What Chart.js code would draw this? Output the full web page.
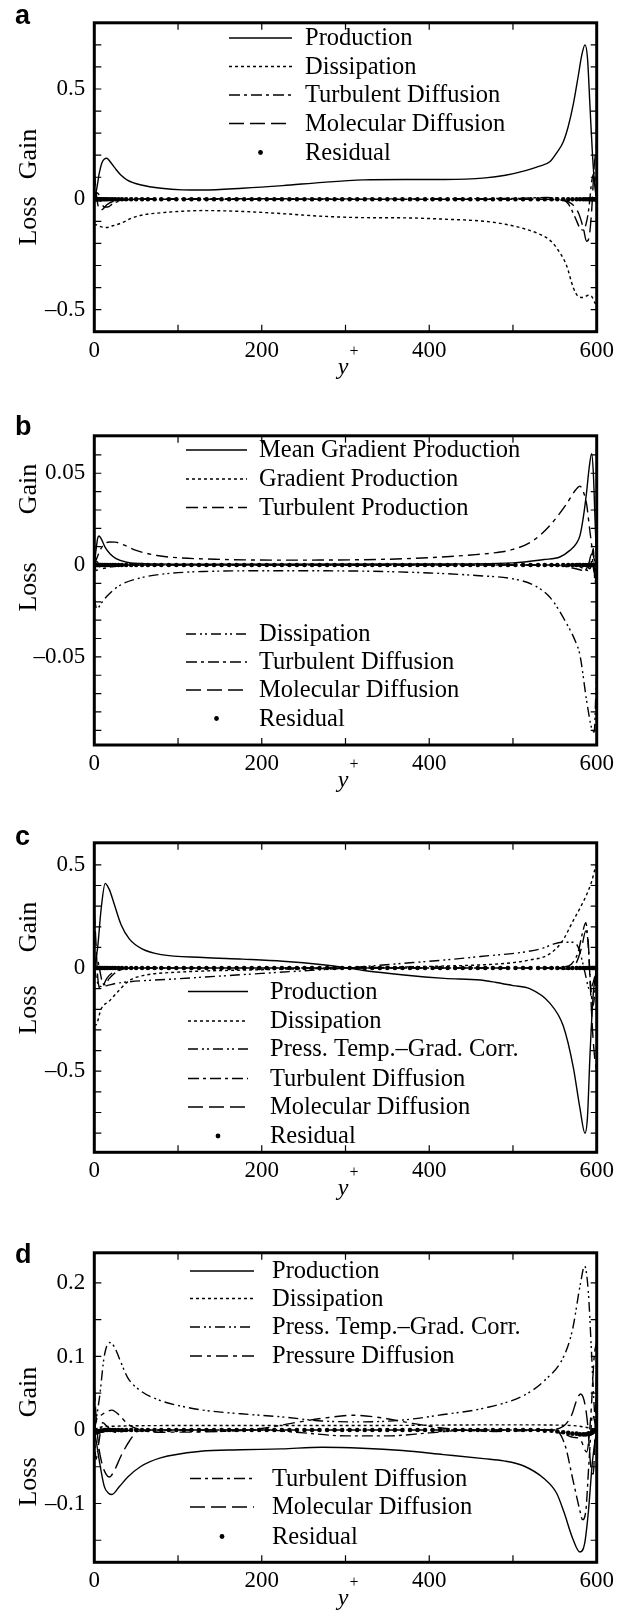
<!DOCTYPE html>
<html lang="en">
<head>
<meta charset="UTF-8">
<title>Budget terms across the channel</title>
<style>
  html, body { margin: 0; padding: 0; background: #fff; }
  body { width: 632px; height: 1611px; position: relative; overflow: hidden; }
  canvas { position: absolute; left: 0; }
</style>
</head>
<body>
<canvas id="panelA"></canvas>
<canvas id="panelB"></canvas>
<canvas id="panelC"></canvas>
<canvas id="panelD"></canvas>

<script src="https://cdn.jsdelivr.net/npm/chart.js"></script>
<script>
// ---- axis ticks ----
const xTicks = [0, 100, 200, 300, 400, 500, 600];
const xLabels = [0, 200, 400, 600];

const ticksA = [-0.6, -0.5, -0.4, -0.3, -0.2, -0.1, 0, 0.1, 0.2, 0.3, 0.4, 0.5, 0.6, 0.7];
const labelsA = [-0.5, 0, 0.5];
const ticksB = [-0.09, -0.08, -0.07, -0.06, -0.05, -0.04, -0.03, -0.02, -0.01, 0, 0.01, 0.02, 0.03, 0.04, 0.05, 0.06];
const labelsB = [-0.05, 0, 0.05];
const ticksC = [-0.8, -0.7, -0.6, -0.5, -0.4, -0.3, -0.2, -0.1, 0, 0.1, 0.2, 0.3, 0.4, 0.5];
const labelsC = [-0.5, 0, 0.5];
const ticksD = [-0.15, -0.1, -0.05, 0, 0.05, 0.1, 0.15, 0.2];
const labelsD = [-0.1, 0, 0.1, 0.2];

// ---- panel a: [y+, value] ----
const prodA = [[0,0],[3,0.05],[6,0.12],[9,0.165],[12,0.183],[15,0.186],[19,0.17],[25,0.14],[32,0.109],[40,0.086],[56,0.065],[80,0.05],[105,0.043],[130,0.042],[177,0.05],[225,0.062],[273,0.077],[322,0.088],[370,0.09],[418,0.09],[467,0.097],[491,0.109],[515,0.13],[530,0.148],[544,0.17],[553,0.215],[560,0.26],[566,0.33],[572,0.43],[578,0.56],[582,0.65],[586,0.7],[589,0.64],[592,0.42],[595,0.2],[598,0.05],[600,0]];
const dissA = [[0,-0.112],[5,-0.12],[10,-0.126],[15,-0.128],[22,-0.12],[32,-0.108],[45,-0.085],[56,-0.072],[80,-0.061],[105,-0.054],[129,-0.051],[177,-0.055],[225,-0.065],[273,-0.077],[322,-0.083],[370,-0.084],[418,-0.09],[467,-0.1],[491,-0.113],[515,-0.135],[530,-0.155],[544,-0.185],[553,-0.225],[564,-0.3],[572,-0.4],[578,-0.44],[584,-0.445],[590,-0.435],[594,-0.44],[598,-0.47],[600,-0.48]];
const turbDiffA = [[0,0],[2,0.03],[5,0.025],[8,-0.01],[12,-0.035],[16,-0.035],[22,-0.02],[32,-0.006],[50,0.002],[100,0.003],[300,0.002],[500,0.004],[540,0.008],[556,0.005],[566,-0.02],[574,-0.08],[580,-0.13],[584,-0.14],[588,-0.1],[591,-0.03],[594,0.08],[597,0.12],[600,0]];
const molDiffA = [[0,0.13],[2,0.04],[4,-0.02],[7,-0.05],[10,-0.045],[15,-0.025],[22,-0.01],[35,-0.002],[60,0],[540,0],[560,-0.005],[570,-0.02],[578,-0.06],[584,-0.13],[588,-0.19],[591,-0.17],[594,-0.05],[597,0.15],[600,0.25]];

// ---- panel b ----
const meanGradProdB = [[0,0],[2,0.008],[4,0.0145],[5.5,0.0158],[8,0.0145],[13,0.0096],[19,0.006],[26,0.0035],[40,0.0014],[60,0.0008],[150,0.0005],[400,0.0006],[500,0.0012],[537,0.003],[556,0.0044],[568,0.008],[576,0.012],[580,0.016],[584,0.026],[588,0.04],[591,0.053],[594,0.0607],[596,0.05],[598,0.025],[600,0]];
const gradProdB = [[0,0],[6,0.0008],[20,0.0004],[60,0],[560,0],[580,-0.001],[590,-0.003],[596,0.001],[600,0]];
const turbProdB = [[0,0],[5,0.006],[10,0.0105],[18,0.0126],[25,0.0125],[35,0.011],[50,0.008],[75,0.0052],[100,0.004],[150,0.0031],[220,0.0027],[320,0.0029],[400,0.004],[450,0.0055],[480,0.0068],[500,0.0085],[523,0.013],[543,0.021],[563,0.0326],[575,0.041],[580,0.043],[584,0.04],[588,0.033],[592,0.018],[596,0.005],[600,0]];
const dissB = [[0,-0.018],[3,-0.024],[8,-0.021],[15,-0.017],[30,-0.0112],[55,-0.007],[80,-0.005],[130,-0.0035],[220,-0.0031],[320,-0.0033],[400,-0.0043],[460,-0.0058],[500,-0.0075],[525,-0.011],[545,-0.018],[563,-0.031],[575,-0.042],[580,-0.049],[588,-0.074],[594,-0.089],[597,-0.091],[599,-0.07],[600,-0.06]];
const turbDiffB = [[0,0],[3,0.002],[8,-0.002],[20,-0.001],[50,0],[550,0],[575,-0.002],[585,-0.003],[590,0],[594,0.006],[597,-0.004],[600,0]];
const molDiffB = [[0,0.004],[2,-0.003],[6,-0.002],[15,0],[560,0],[585,0.001],[592,-0.002],[596,0.009],[598,-0.01],[600,0]];

// ---- panel c ----
const prodC = [[0,0],[4,0.1],[8,0.28],[13,0.41],[18,0.38],[23,0.32],[32,0.21],[42,0.14],[57,0.093],[80,0.065],[130,0.051],[177,0.043],[225,0.033],[273,0.016],[300,0.002],[320,-0.011],[370,-0.034],[418,-0.05],[461,-0.058],[480,-0.07],[500,-0.085],[520,-0.1],[544,-0.17],[560,-0.28],[572,-0.48],[580,-0.68],[586,-0.8],[589,-0.72],[592,-0.42],[596,-0.12],[600,0]];
const dissC = [[0,-0.28],[3,-0.27],[8,-0.2],[18,-0.16],[28,-0.115],[42,-0.06],[60,-0.035],[100,-0.02],[200,-0.008],[300,0],[400,0.008],[460,0.015],[500,0.026],[520,0.039],[541,0.062],[558,0.124],[572,0.23],[580,0.29],[588,0.356],[594,0.42],[598,0.48],[600,0.5]];
const ptgcC = [[0,0],[3,-0.06],[8,-0.09],[15,-0.085],[25,-0.075],[33,-0.07],[100,-0.052],[200,-0.026],[300,0],[360,0.02],[418,0.039],[461,0.056],[514,0.078],[535,0.095],[548,0.116],[558,0.125],[572,0.125],[578,0.1],[583,0.03],[587,-0.04],[591,-0.1],[595,-0.08],[600,0]];
const turbDiffC = [[0,0],[3,0.05],[6,0],[9,-0.06],[12,-0.08],[18,-0.05],[28,-0.015],[45,0],[540,0],[560,0.005],[570,0.02],[578,0.08],[583,0.17],[587,0.22],[590,0.1],[593,-0.1],[596,-0.18],[598,-0.1],[600,0]];
const molDiffC = [[0,0.28],[2,0.12],[4,-0.04],[7,-0.1],[10,-0.09],[15,-0.05],[25,-0.015],[45,0],[550,0],[565,-0.005],[575,0.02],[582,0.1],[587,0.18],[590,0.12],[592,-0.05],[595,-0.3],[598,-0.45],[600,-0.5]];

// ---- panel d ----
const prodD = [[0,0],[3,-0.02],[6,-0.042],[12,-0.077],[17,-0.086],[21,-0.0878],[30,-0.077],[40,-0.064],[55,-0.05],[79,-0.038],[127,-0.029],[175,-0.027],[224,-0.0257],[272,-0.0235],[320,-0.0248],[368,-0.028],[417,-0.0335],[465,-0.039],[489,-0.042],[513,-0.049],[537,-0.066],[552,-0.0857],[561,-0.112],[571,-0.1465],[580,-0.166],[585.5,-0.155],[590,-0.112],[595,-0.042],[600,0]];
const dissD = [[0,0],[5,0.003],[20,0.005],[100,0.006],[300,0.006],[500,0.007],[570,0.006],[590,0.003],[600,0]];
const ptgcD = [[0,0],[3,0.02],[6.3,0.045],[12,0.101],[18,0.119],[24,0.113],[30,0.097],[40,0.071],[55,0.0535],[79,0.04],[103,0.0326],[127,0.0274],[175,0.022],[224,0.0178],[272,0.0122],[320,0.011],[368,0.0135],[417,0.021],[465,0.0296],[513,0.047],[537,0.0665],[561,0.101],[571,0.136],[580.6,0.199],[585.5,0.223],[590,0.188],[593.6,0.11],[597.5,0.023],[600,0]];
const pressDiffD = [[0,0],[3,0.015],[8,0.02],[15,0.025],[21,0.027],[30,0.02],[40,0.008],[55,0],[80,-0.003],[150,-0.002],[200,0.002],[240,0.01],[280,0.017],[310,0.02],[340,0.017],[380,0.009],[420,0.002],[480,-0.002],[540,0],[560,-0.005],[572,-0.01],[580,-0.012],[588,-0.03],[593,0.02],[597,0.1],[600,0.12]];
const turbDiffD = [[0,0],[2,-0.04],[5,-0.02],[10,0.01],[15,0.005],[25,-0.003],[50,0],[200,0],[250,-0.004],[300,-0.008],[350,-0.008],[400,-0.004],[450,0],[550,0],[562,-0.02],[572,-0.07],[580,-0.11],[583,-0.122],[587,-0.11],[591,-0.04],[595,0.02],[600,0]];
const molDiffD = [[0,0.06],[2,0.02],[5,-0.02],[9,-0.045],[14,-0.06],[18,-0.064],[24,-0.055],[32,-0.035],[42,-0.015],[52,-0.002],[70,0],[540,0],[560,0.005],[570,0.02],[576,0.04],[580.6,0.049],[585,0.04],[589,0.01],[593,-0.05],[596,-0.06],[598,0],[600,0.08]];

// ---- residual, sampled on the solver grid ----
const resX = [0,1,2,3,4,5,6,7,8,10,12,14,16,19,22,25,29,33,38,44,50,57,64,72,80,89,98,107,116,125,134,143,152,161,170,179,188,197,206,215,224,233,242,251,260,269,278,287,296,305,314,323,332,341,350,359,368,377,386,395,404,413,422,431,440,449,458,467,476,485,494,503,512,521,530,538,546,553,560,566,571,576,580,584,587,590,592,594,595,596,597,598,599,600];
const residABC = [0,0,0,0,0,0,0,0,0,0,0,0,0,0,0,0,0,0,0,0,0,0,0,0,0,0,0,0,0,0,0,0,0,0,0,0,0,0,0,0,0,0,0,0,0,0,0,0,0,0,0,0,0,0,0,0,0,0,0,0,0,0,0,0,0,0,0,0,0,0,0,0,0,0,0,0,0,0,0,0,0,0,0,0,0,0,0,0,0,0,0,0,0,0];
const residD = [0,-0.002,-0.003,-0.003,-0.003,-0.002,-0.002,-0.001,-0.001,-0.001,0,0,0,0,0,0,0,0,0,0,0,0,0,0,0,0,0,0,0,0,0,0,0,0,0,0,0,0,0,0,0,0,0,0,0,0,0,0,0,0,0,0,0,0,0,0,0,0,0,0,0,0,0,0,0,0,0,0,0,0,0,0,0,0,0,-0.001,-0.001,-0.002,-0.003,-0.004,-0.005,-0.005,-0.006,-0.006,-0.006,-0.005,-0.005,-0.004,-0.003,-0.002,-0.001,0,0,0];

// line patterns
const SOLID = [];
const DOTTED = [3, 3];
const DASH_DOT = [11, 4, 3, 4];
const LONG_DASH = [15, 6];
const DASH_DOT_DOT = [10, 4, 2, 3, 2, 4];
const DASH_SHORT = [12, 5, 4, 5];

const SERIF = '"Liberation Serif", "Times New Roman", serif';
const PAGE_W = 632;
const PLOT_LEFT = 94.3;
const PLOT_RIGHT = 596.7;
const PAD_TOP = 9;
const AXIS_H = 48;

const toXY = pairs => pairs.map(([x, y]) => ({ x, y }));
const resPoints = vals => resX.map((x, i) => ({ x, y: vals[i] }));

const panels = [
  {
    id: 'panelA', letter: 'a', letterY: 24, top: 9.3, bottom: 331.7,
    yMin: -0.6, yMax: 0.8, yTicks: ticksA, yLabels: labelsA,
    gainY: 154, lossY: 221, lineX: [229, 292], textX: 305,
    series: [
      { label: 'Production', pts: toXY(prodA), dash: SOLID, ly: 38 },
      { label: 'Dissipation', pts: toXY(dissA), dash: DOTTED, ly: 66.5 },
      { label: 'Turbulent Diffusion', pts: toXY(turbDiffA), dash: DASH_DOT, ly: 95 },
      { label: 'Molecular Diffusion', pts: toXY(molDiffA), dash: LONG_DASH, ly: 123.5 },
      { label: 'Residual', pts: resPoints(residABC), dots: true, ly: 152.5 }
    ]
  },
  {
    id: 'panelB', letter: 'b', letterY: 435, top: 421.7, bottom: 745,
    yMin: -0.098, yMax: 0.0704, yTicks: ticksB, yLabels: labelsB,
    gainY: 489, lossY: 587, lineX: [186, 247], textX: 259,
    series: [
      { label: 'Mean Gradient Production', pts: toXY(meanGradProdB), dash: SOLID, ly: 450 },
      { label: 'Gradient Production', pts: toXY(gradProdB), dash: DOTTED, ly: 479 },
      { label: 'Turbulent Production', pts: toXY(turbProdB), dash: DASH_SHORT, ly: 507.5 },
      { label: 'Dissipation', pts: toXY(dissB), dash: DASH_DOT_DOT, ly: 634 },
      { label: 'Turbulent Diffusion', pts: toXY(turbDiffB), dash: DASH_DOT, ly: 662 },
      { label: 'Molecular Diffusion', pts: toXY(molDiffB), dash: LONG_DASH, ly: 690 },
      { label: 'Residual', pts: resPoints(residABC), dots: true, ly: 718.5 }
    ]
  },
  {
    id: 'panelC', letter: 'c', letterY: 845, top: 829.3, bottom: 1152.3,
    yMin: -0.893, yMax: 0.607, yTicks: ticksC, yLabels: labelsC,
    gainY: 927, lossY: 1010, lineX: [188, 248], textX: 270,
    series: [
      { label: 'Production', pts: toXY(prodC), dash: SOLID, ly: 991.5 },
      { label: 'Dissipation', pts: toXY(dissC), dash: DOTTED, ly: 1021 },
      { label: 'Press. Temp.\u2013Grad. Corr.', pts: toXY(ptgcC), dash: DASH_DOT_DOT, ly: 1049 },
      { label: 'Turbulent Diffusion', pts: toXY(turbDiffC), dash: DASH_DOT, ly: 1078.5 },
      { label: 'Molecular Diffusion', pts: toXY(molDiffC), dash: LONG_DASH, ly: 1107 },
      { label: 'Residual', pts: resPoints(residABC), dots: true, ly: 1136 }
    ]
  },
  {
    id: 'panelD', letter: 'd', letterY: 1263, top: 1239.3, bottom: 1562.3,
    yMin: -0.18, yMax: 0.241, yTicks: ticksD, yLabels: labelsD,
    gainY: 1392, lossY: 1482, lineX: [190, 254], textX: 272,
    series: [
      { label: 'Production', pts: toXY(prodD), dash: SOLID, ly: 1271 },
      { label: 'Dissipation', pts: toXY(dissD), dash: DOTTED, ly: 1298.5 },
      { label: 'Press. Temp.\u2013Grad. Corr.', pts: toXY(ptgcD), dash: DASH_DOT_DOT, ly: 1327 },
      { label: 'Pressure Diffusion', pts: toXY(pressDiffD), dash: DASH_SHORT, ly: 1356 },
      { label: 'Turbulent Diffusion', pts: toXY(turbDiffD), dash: DASH_DOT, ly: 1478.5 },
      { label: 'Molecular Diffusion', pts: toXY(molDiffD), dash: LONG_DASH, ly: 1507 },
      { label: 'Residual', pts: resPoints(residD), dots: true, ly: 1536.5 }
    ]
  }
];

function fmtTick(v, labels) {
  if (!labels.some(l => Math.abs(l - v) < 1e-9)) return '';
  if (Math.abs(v) < 1e-12) return '0';
  return (v < 0 ? '\u2013' : '') + String(Math.abs(v));
}

// frame, inward ticks, side labels and the in-plot legend
const decor = {
  id: 'decor',
  afterDatasetsDraw(chart) {
    const p = chart.options.plugins.decor.panel;
    const off = chart.options.plugins.decor.offset;
    const ctx = chart.ctx;
    const { left, right, top, bottom } = chart.chartArea;
    const xs = chart.scales.x, ys = chart.scales.y;
    ctx.save();
    ctx.strokeStyle = '#000';
    ctx.fillStyle = '#000';
    ctx.setLineDash([]);

    ctx.lineWidth = 1.2;
    ctx.beginPath();
    xTicks.forEach(v => {
      const px = xs.getPixelForValue(v);
      ctx.moveTo(px, bottom); ctx.lineTo(px, bottom - 7);
      ctx.moveTo(px, top); ctx.lineTo(px, top + 7);
    });
    p.yTicks.forEach(v => {
      const py = ys.getPixelForValue(v);
      ctx.moveTo(left, py); ctx.lineTo(left + 7, py);
      ctx.moveTo(right, py); ctx.lineTo(right - 6, py);
    });
    ctx.stroke();

    ctx.lineWidth = 3;
    ctx.strokeRect(left, top, right - left, bottom - top);

    // Gain / Loss
    ctx.font = '26px ' + SERIF;
    ctx.textAlign = 'center';
    ctx.textBaseline = 'middle';
    [['Gain', p.gainY], ['Loss', p.lossY]].forEach(([t, y]) => {
      ctx.save();
      ctx.translate(29, y - off);
      ctx.rotate(-Math.PI / 2);
      ctx.fillText(t, 0, 0);
      ctx.restore();
    });

    // y+ axis title
    ctx.font = 'italic 24px ' + SERIF;
    ctx.fillText('y', 343, bottom + 36);
    ctx.font = '16px ' + SERIF;
    ctx.fillText('+', 354, bottom + 20);

    // panel letter
    ctx.font = 'bold 27px "Liberation Sans", Arial, sans-serif';
    ctx.textAlign = 'left';
    ctx.textBaseline = 'alphabetic';
    ctx.fillText(p.letter, 15, p.letterY - off);

    // legend
    ctx.font = '24.5px ' + SERIF;
    ctx.textBaseline = 'middle';
    p.series.forEach(s => {
      const y = s.ly - off;
      if (s.dots) {
        ctx.beginPath();
        ctx.arc((p.lineX[0] + p.lineX[1]) / 2, y, 2.4, 0, Math.PI * 2);
        ctx.fill();
      } else {
        ctx.lineWidth = 1.4;
        ctx.setLineDash(s.dash);
        ctx.beginPath();
        ctx.moveTo(p.lineX[0], y);
        ctx.lineTo(p.lineX[1], y);
        ctx.stroke();
        ctx.setLineDash([]);
      }
      ctx.fillText(s.label, p.textX, y + 1);
    });
    ctx.restore();
  }
};

function buildPanel(p) {
  const canvas = document.getElementById(p.id);
  const canvasTop = Math.round(p.top) - PAD_TOP;
  const height = Math.round(p.bottom - canvasTop + AXIS_H);
  canvas.width = PAGE_W;
  canvas.height = height;
  canvas.style.top = canvasTop + 'px';
  canvas.style.width = PAGE_W + 'px';
  canvas.style.height = height + 'px';

  const datasets = p.series.map(s => s.dots ? {
    label: s.label, data: s.pts, showLine: false,
    pointRadius: 2.3, pointBackgroundColor: '#000', pointBorderWidth: 0
  } : {
    label: s.label, data: s.pts, borderColor: '#000', borderWidth: 1.4,
    borderDash: s.dash, pointRadius: 0, fill: false,
    cubicInterpolationMode: 'monotone'
  });

  return new Chart(canvas.getContext('2d'), {
    type: 'line',
    data: { datasets },
    options: {
      responsive: false,
      animation: false,
      devicePixelRatio: 1,
      layout: { padding: { top: p.top - canvasTop, right: PAGE_W - PLOT_RIGHT, left: 0, bottom: 0 } },
      scales: {
        x: {
          type: 'linear', min: 0, max: 600,
          afterBuildTicks: sc => { sc.ticks = xTicks.map(v => ({ value: v })); },
          afterFit: sc => { sc.height = height - (p.bottom - canvasTop); },
          grid: { display: false, drawTicks: false },
          border: { display: false },
          ticks: {
            autoSkip: false, maxRotation: 0, padding: 5, color: '#000',
            font: { family: SERIF, size: 23 },
            callback: v => fmtTick(v, xLabels)
          }
        },
        y: {
          type: 'linear', min: p.yMin, max: p.yMax,
          afterBuildTicks: sc => { sc.ticks = p.yTicks.map(v => ({ value: v })); },
          afterFit: sc => { sc.width = PLOT_LEFT; },
          grid: { display: false, drawTicks: false },
          border: { display: false },
          ticks: {
            autoSkip: false, padding: 9, color: '#000',
            font: { family: SERIF, size: 23 },
            callback: v => fmtTick(v, p.yLabels)
          }
        }
      },
      plugins: {
        legend: { display: false },
        tooltip: { enabled: false },
        decor: { panel: p, offset: canvasTop }
      }
    },
    plugins: [decor]
  });
}

panels.forEach(buildPanel);
</script>
</body>
</html>
